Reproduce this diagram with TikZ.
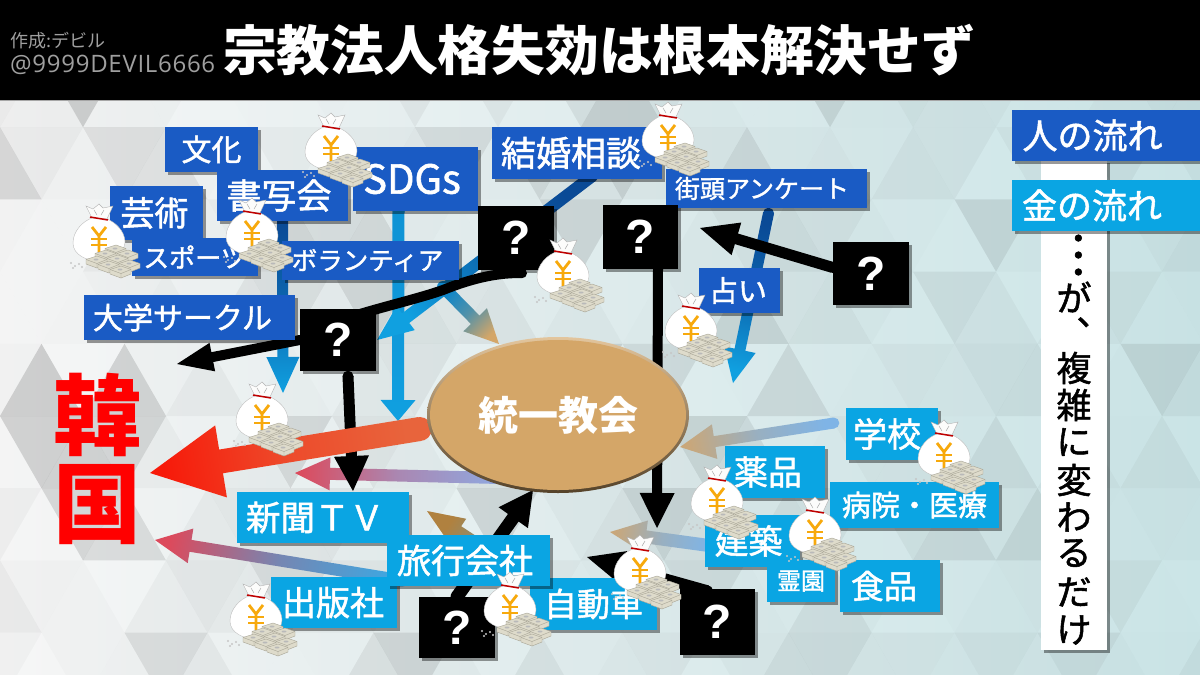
\documentclass[tikz,border=0pt]{standalone}
\usepackage{fontspec}
\usetikzlibrary{calc,shadows,shapes.geometric}
\newfontfamily\jpr{Noto Sans CJK JP}
\newfontfamily\jpm{Noto Sans CJK JP}[FakeBold=1.5]
\newfontfamily\jpd{Noto Sans CJK JP}[FakeBold=1.5,LetterSpace=-47]
\newfontfamily\jpb{Noto Sans CJK JP}
\newfontfamily\arialb{Liberation Sans Bold}
\newfontfamily\thinf{Open Sans}[LetterSpace=3]
\newcommand{\fsz}[1]{\fontsize{#1}{#1}\selectfont}
\definecolor{dkblue}{HTML}{1A5BC4}
\definecolor{cyanbox}{HTML}{0AA5E3}
\definecolor{navy}{HTML}{0A4A96}
\definecolor{skyarrow}{HTML}{10A0E0}
\definecolor{tanfill}{HTML}{D4A668}
\definecolor{pinkhead}{HTML}{DC4A5C}
\definecolor{lilac}{HTML}{8FA8E0}
\definecolor{softblue}{HTML}{7FB4E6}
\definecolor{tantip}{HTML}{C9A77A}
\definecolor{darktan}{HTML}{B0813F}
\definecolor{midblue}{HTML}{3FA6E0}
\definecolor{orangered}{HTML}{E8643C}
\definecolor{hotred}{HTML}{F71A0A}
\definecolor{billfill}{HTML}{DEDBCB}
\definecolor{billline}{HTML}{A8A596}
\definecolor{yenorange}{HTML}{F7A90C}
\definecolor{bgleft}{HTML}{F6F6F6}
\definecolor{bgmid}{HTML}{EAF3F4}
\definecolor{bgright}{HTML}{CBE5E7}
\pgfdeclarelayer{backdrop}
\pgfdeclarelayer{arrows}
\pgfdeclarelayer{icons}
\pgfsetlayers{backdrop,arrows,main,icons}
\tikzset{
  boxshadow/.style={drop shadow={shadow xshift=2.5pt,shadow yshift=-3pt,opacity=.4,fill=black}},
  flatbox/.style={rectangle,inner sep=0pt,boxshadow,text=white},
  bluebox/.style={flatbox,fill=dkblue},
  skybox/.style={flatbox,fill=cyanbox},
  qbox/.style={flatbox,fill=black},
  moneybag/.pic={
    \fill[gray!45] (-28,24) circle (1.1) (-24,27) circle (1.1) (-20,25) circle (1.1) (-26,29) circle (1.1) (-17,28) circle (1.1);
    \filldraw[fill=white!92!billfill,draw=gray!60,line width=.4pt] (-7,-21) -- (-13,-33) -- (-6,-30) -- (0,-35) -- (4,-31) -- (14,-33) -- (8,-20) -- cycle;
    \draw[gray!70,line width=.5pt] (-5,-29) -- (-2,-24) (5,-29) -- (2,-24);
    \filldraw[fill=white,draw=gray!50,line width=.4pt] (-7,-21) .. controls (-16,-18) and (-26,-8) .. (-26,4) .. controls (-26,16) and (-12,22) .. (0,22) .. controls (12,22) and (26,14) .. (26,3) .. controls (26,-8) and (16,-17) .. (8,-20) -- cycle;
    \draw[red!75!black,line width=1.5pt] (-9,-22) -- (9,-19);
    \draw[yenorange,line width=2.8pt] (-7,-12) -- (0,-3) -- (7,-12) (0,-3) -- (0,13);
    \draw[yenorange,line width=2.2pt] (-8,0) -- (8,0) (-8,6) -- (8,6);
    \foreach \bxx/\byy in {17/6,29/11,7/11,19/16,31/21,-2/17,10/22,22/27} {
      \filldraw[fill=billfill,draw=billline,line width=.4pt,line join=round]
        (\bxx,\byy) -- (\bxx+10,\byy+3.5) -- (\bxx+10,\byy+8) -- (\bxx,\byy+12) -- (\bxx-11,\byy+8) -- (\bxx-11,\byy+3.5) -- cycle;
      \draw[billline,line width=.4pt] (\bxx-11,\byy+3.5) -- (\bxx,\byy+7.5) -- (\bxx+10,\byy+3.5) (\bxx,\byy+7.5) -- (\bxx,\byy+12);
      \fill[gray!55] (\bxx-1,\byy+3.5) ellipse (2.5 and 1);
    }
  }
}
\newcommand{\bx}[8][bluebox]{%
  \node[#1,minimum width={(#5-#3)*1pt},minimum height={(#6-#4)*1pt},font=\jpm\fsz{#7}] (#2) at ({(#3+#5)/2},{(#4+#6)/2}) {#8};}
\newcommand{\qb}[5]{%
  \node[qbox,minimum width={(#4-#2)*1pt},minimum height={(#5-#3)*1pt},font=\arialb\fsz{48}] (#1) at ({(#2+#4)/2},{(#3+#5)/2}) {?};}
\newcommand{\blockarrow}[7]{%
  \coordinate (bas) at #1; \coordinate (bat) at #2;
  \pgfmathanglebetweenpoints{\pgfpointanchor{bas}{center}}{\pgfpointanchor{bat}{center}}%
  \pgfmathsetmacro\baang{\pgfmathresult+90}%
  \fill[#6] (bas) circle ({#3/2*1pt});
  \coordinate (ban) at ($(bat)!#5 pt!(bas)$);
  \path[top color=#6,bottom color=#7,middle color=#6!65!#7,shading angle=\baang]
    ($(bas)!#3/2 pt!90:(bat)$) -- ($(ban)!#3/2 pt!-90:(bas)$) -- ($(ban)!#4/2 pt!-90:(bas)$) -- (bat)
    -- ($(ban)!#4/2 pt!90:(bas)$) -- ($(ban)!#3/2 pt!90:(bas)$) -- ($(bas)!#3/2 pt!-90:(bat)$) -- cycle;
}
\begin{document}
\begin{tikzpicture}[x=1pt,y=-1pt]
\useasboundingbox (0,0) rectangle (1200,675);
\begin{pgfonlayer}{backdrop}
  \fill[black] (0,0) rectangle (1200,100);
  \shade[left color=bgleft,middle color=bgmid,right color=bgright] (0,100) rectangle (1200,675);
  \begin{scope}
    \clip (0,101) rectangle (1200,675);
    \pgfmathsetseed{1234}
    \foreach \r in {0,...,8} {
      \pgfmathsetmacro\ry{55+72.2*\r}
      \pgfmathsetmacro\ro{mod(\r,2)*41.5}
      \foreach \c in {-1,...,15} {
        \pgfmathsetmacro\cx{\c*83+\ro}
        \pgfmathsetmacro\oa{rnd*rnd*(0.18-0.08*\c/15)}
        \pgfmathsetmacro\ob{rnd*rnd*(0.18-0.08*\c/15)}
        \fill[black,opacity=\oa] (\cx,\ry+72.2) -- (\cx+83,\ry+72.2) -- (\cx+41.5,\ry) -- cycle;
        \fill[black,opacity=\ob] (\cx+41.5,\ry) -- (\cx+124.5,\ry) -- (\cx+83,\ry+72.2) -- cycle;
      }
    }
  \end{scope}
  \draw[gray!70,line width=1pt] (0,100.5) -- (1200,100.5);
\end{pgfonlayer}

% header
\node[font=\jpb\bfseries\fsz{53.7},text=white,inner sep=0pt] (title) at (599,50) {宗教法人格失効は根本解決せず};
\node[font=\jpr\fsz{18},text=gray!75,inner sep=0pt,anchor=west] (author) at (10,41) {作成:デビル};
\node[font=\thinf\fsz{24},text=gray!75,inner sep=0pt,anchor=west] (handle) at (10,65) {@9999DEVIL6666};

% side panel
\node[rectangle,fill=white,boxshadow,minimum width=66pt,minimum height=490pt,inner sep=0pt] (panel) at (1074,405) {};
\node[font=\jpd\fsz{32},text=black,inner sep=0pt,rotate=-90] (vdots) at (1074,255) {・・・};
\node[font=\jpm\fsz{35},text=black,inner sep=0pt] (vd) at (1074,297) {が\rlap{\hspace*{-15pt}\smash{\raisebox{-14pt}{、}}}};
\foreach \n/\ch/\px/\py in {f/複/1074/368,g/雑/1074/405,h/に/1074/442,i/変/1074/480,j/わ/1074/517,k/る/1074/553,l/だ/1074/592,m/け/1074/630} {
  \node[font=\jpm\fsz{35},text=black,inner sep=0pt] (v\n) at (\px,\py) {\ch};
}
\bx{hitoflow}{1012}{110}{1201}{161}{35}{\hspace*{-28pt}人の流れ}
\bx[skybox]{kaneflow}{1012}{180}{1200}{231}{35}{\hspace*{-28pt}金の流れ}

% top-left boxes
\bx{ronly}{110}{186}{203}{240}{34}{\hspace*{-4pt}芸術}
\bx{bunka}{165}{127}{258}{172}{30}{文化}
\bx{shosha}{217}{170}{348}{221}{35}{\hspace*{-7pt}書写会}
\bx{sdgs}{353}{147}{478}{211}{40}{\hspace*{-7pt}SDGs}
\bx{sports}{132}{238}{258}{276}{26}{スポーツ}
\bx{volunteer}{282}{241}{459}{280}{25.5}{\hspace*{-6pt}ボランティア}
\bx{daigaku}{84}{295}{295}{340}{30}{\hspace*{-14pt}大学サークル}
\bx{kekkon}{492}{127}{662}{179}{35}{\hspace*{-12pt}結婚相談}
\bx{gaito}{666}{169}{867}{208}{25}{\hspace*{-9pt}街頭アンケート}
\bx{uranai}{699}{268}{780}{313}{29}{\hspace*{-3pt}占い}

\qb{qa}{300}{309}{376}{371}
\qb{qb}{478}{206}{554}{270}
\qb{qc}{603}{205}{678}{269}
\qb{qd}{833}{242}{909}{305}
\qb{qe}{419}{597}{495}{658}
\qb{qf}{680}{589}{755}{655}

% church
\node[ellipse,top color=white!35!tanfill,bottom color=black!60!tanfill,minimum width=262pt,minimum height=156pt,inner sep=0pt] (church) at (558,415) {};
\node[ellipse,fill=tanfill,minimum width=256pt,minimum height=150pt,inner sep=0pt,text=white,font=\jpb\bfseries\fsz{40}] (churchlabel) at (558,415) {統一教会};

% lower boxes
\bx[skybox]{shinbun}{237}{492}{409}{543}{34.5}{\hspace*{-16pt}新聞ＴＶ}
\bx[skybox]{shuppan}{271}{577}{397}{628}{34}{\hspace*{-2pt}出版社}
\bx[skybox]{jidosha}{530}{578}{657}{630}{33}{自動車}
\bx[skybox]{ryoko}{387}{535}{550}{586}{34}{\hspace*{-7pt}旅行会社}
\bx[skybox]{gakko}{846}{408}{938}{460}{34}{\hspace*{-10pt}学校}
\bx[skybox]{yakuhin}{725}{446}{825}{498}{34}{\hspace*{-14pt}薬品}
\bx[skybox]{byoin}{830}{482}{999}{528}{29}{病院・医療}
\bx[skybox]{kenchiku}{705}{515}{800}{567}{34}{\hspace*{-8pt}建築}
\bx[skybox]{reien}{767}{560}{835}{602}{24}{霊園}
\bx[skybox]{shokuhin}{840}{560}{940}{612}{33}{\hspace*{-12pt}食品}

% Korea
\node[font=\jpb\bfseries\fsz{88},text=red,align=center,inner sep=0pt] (korea) at (97,459) {\fontsize{88}{91}\selectfont 韓\\国};

% free ends
\coordinate (tipa) at (283,393);
\coordinate (tipb) at (398,421);
\coordinate (tipc) at (377,340);
\coordinate (startd) at (443,287);
\coordinate (tipd) at (499,344);
\coordinate (tipe) at (177,364);
\coordinate (tipf) at (353,491);
\coordinate (tipg) at (150,473);
\coordinate (starth) at (500,478);
\coordinate (tiph) at (295,473);
\coordinate (tipi) at (155,540);
\coordinate (tipj) at (533,490);
\coordinate (tipk) at (427,511);
\coordinate (tipl) at (657,528);
\coordinate (tipm) at (587,557);
\coordinate (tipn) at (610,532);
\coordinate (tipo) at (680,447);
\coordinate (tipp) at (700,228);
\coordinate (tipq) at (733,383);
\coordinate (curvea) at (443,290);

\begin{pgfonlayer}{arrows}
  \blockarrow{([shift={(0,0)}]shosha.south)}{(tipa)}{11}{33}{36}{navy}{skyarrow}
  \blockarrow{([shift={(-17,0)}]sdgs.south)}{(tipb)}{12}{35}{21}{skyarrow!85!navy}{skyarrow}
  \blockarrow{([shift={(15,-3)}]kekkon.south)}{(tipc)}{12}{30}{36}{navy}{skyarrow}
  \blockarrow{(startd)}{(tipd)}{12}{33}{34}{skyarrow!70!navy}{tanfill}
  \blockarrow{(starth)}{(tiph)}{12}{33}{35}{lilac}{pinkhead}
  \blockarrow{([shift={(10,5)}]qa.south)}{(tipf)}{11}{35}{35}{black}{black}
  \draw[black,line width=10pt,line cap=round] ([shift={(6,3)}]qb.south) .. controls (490,272) and (458,284) .. (curvea) .. controls (420,298) and (390,305) .. ([shift={(22,-26)}]qa.center);
  \blockarrow{(qa.west)}{(tipe)}{10}{29}{36}{black}{black}
  \blockarrow{([shift={(-7,14)}]church.west)}{(tipg)}{24}{73}{72}{orangered}{hotred}
  \blockarrow{([shift={(5,-22)}]shuppan.east)}{(tipi)}{12}{35}{36}{midblue}{pinkhead}
  \blockarrow{([shift={(-20,3)}]jidosha.center)}{(tipk)}{12}{30}{37}{midblue}{darktan}
  \blockarrow{(qe.north)}{(tipj)}{13}{36}{34}{black}{black}
  \blockarrow{([shift={(17.5,0)}]qc.south)}{(tipl)}{10}{35}{35}{black}{black}
  \blockarrow{([shift={(-40,5)}]kenchiku.center)}{(tipn)}{13}{33}{36}{softblue}{tantip}
  \blockarrow{([shift={(-10,2)}]qf.north)}{(tipm)}{11}{33}{37}{black}{black}
  \blockarrow{([shift={(-12,-11)}]gakko.west)}{(tipo)}{11}{35}{35}{softblue}{tantip}
  \blockarrow{([shift={(2,5)}]gaito.south)}{(tipq)}{11}{32}{34}{navy}{skyarrow}
  \blockarrow{([shift={(0,-6)}]qd.west)}{(tipp)}{11}{34}{38}{black}{black}
\end{pgfonlayer}

\begin{pgfonlayer}{icons}
  \foreach \mx/\my in {331/148,99/239,252/233,668/137,563/273,691/328,262/417,256/617,510/607,640/570,717/500,815/532,944/455} {
    \pic at (\mx,\my) {moneybag};
  }
\end{pgfonlayer}
\end{tikzpicture}
\end{document}
